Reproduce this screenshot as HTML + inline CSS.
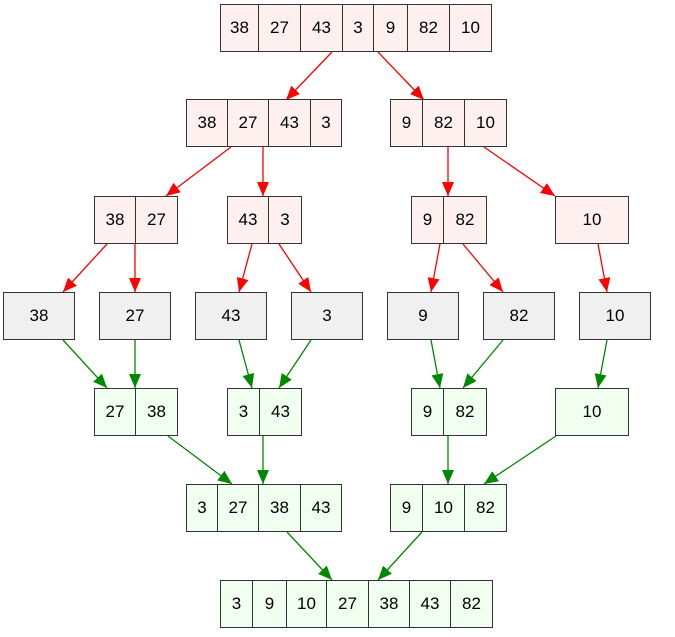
<!DOCTYPE html>
<html><head><meta charset="utf-8"><style>
body{margin:0;background:#fff;width:675px;height:637px;position:relative;overflow:hidden;font-family:"Liberation Sans",sans-serif;}
.n{position:absolute;display:flex;border:1.5px solid #333;box-sizing:border-box;height:48px;}
.n div{flex:none;display:flex;align-items:center;justify-content:center;font-size:17px;color:#000;border-right:1.5px solid #333;box-sizing:border-box;height:100%;}
.n div:last-child{border-right:none;}
.r{background:#fff0f0}.g{background:#f0fff0}.y{background:#f0f0f0}
svg{position:absolute;left:0;top:0}
</style></head><body>
<svg width="675" height="637">
<defs>
<marker id="ar" markerUnits="userSpaceOnUse" markerWidth="14" markerHeight="12" refX="14" refY="6" orient="auto"><path d="M0,0 L14,6 L0,12 z" fill="#f00"/></marker>
<marker id="ag" markerUnits="userSpaceOnUse" markerWidth="14" markerHeight="12" refX="14" refY="6" orient="auto"><path d="M0,0 L14,6 L0,12 z" fill="#080"/></marker>
</defs>
<g stroke="#f00" stroke-width="1.3" marker-end="url(#ar)">
<line x1="332" y1="52" x2="286" y2="100"/><line x1="378" y1="52" x2="424" y2="100"/>
<line x1="231" y1="147" x2="166" y2="196"/><line x1="263" y1="147" x2="263" y2="196"/>
<line x1="448" y1="147" x2="448" y2="196"/><line x1="484" y1="147" x2="555" y2="196"/>
<line x1="107" y1="244" x2="63" y2="292"/><line x1="135" y1="244" x2="135" y2="292"/>
<line x1="252" y1="244" x2="239" y2="292"/><line x1="279" y1="244" x2="311" y2="292"/>
<line x1="440" y1="244" x2="431" y2="292"/><line x1="463" y1="244" x2="503" y2="292"/>
<line x1="598" y1="244" x2="607" y2="292"/>
</g>
<g stroke="#080" stroke-width="1.3" marker-end="url(#ag)">
<line x1="63" y1="340" x2="107" y2="388"/><line x1="135" y1="340" x2="135" y2="388"/>
<line x1="239" y1="340" x2="252" y2="388"/><line x1="311" y1="340" x2="279" y2="388"/>
<line x1="431" y1="340" x2="440" y2="388"/><line x1="503" y1="340" x2="463" y2="388"/>
<line x1="607" y1="340" x2="598" y2="388"/>
<line x1="168" y1="436" x2="232" y2="484"/><line x1="263" y1="436" x2="263" y2="484"/>
<line x1="448" y1="436" x2="448" y2="484"/><line x1="556" y1="436" x2="484" y2="484"/>
<line x1="287" y1="532" x2="332" y2="580"/><line x1="422" y1="532" x2="378" y2="580"/>
</g>
</svg>

<div class="n r" style="left:220px;top:4px"><div style="width:38px">38</div><div style="width:42px">27</div><div style="width:42px">43</div><div style="width:31px">3</div><div style="width:34px">9</div><div style="width:42px">82</div><div style="width:41px">10</div></div>

<div class="n r" style="left:186px;top:99px"><div style="width:41px">38</div><div style="width:41px">27</div><div style="width:42px">43</div><div style="width:30px">3</div></div>
<div class="n r" style="left:390px;top:99px"><div style="width:32px">9</div><div style="width:42px">82</div><div style="width:41px">10</div></div>

<div class="n r" style="left:94px;top:196px"><div style="width:41px">38</div><div style="width:41px">27</div></div>
<div class="n r" style="left:227px;top:196px"><div style="width:41px">43</div><div style="width:32px">3</div></div>
<div class="n r" style="left:411px;top:196px"><div style="width:32px">9</div><div style="width:42px">82</div></div>
<div class="n r" style="left:555px;top:196px"><div style="width:72px">10</div></div>

<div class="n y" style="left:3px;top:292px"><div style="width:70px">38</div></div>
<div class="n y" style="left:99px;top:292px"><div style="width:70px">27</div></div>
<div class="n y" style="left:195px;top:292px"><div style="width:70px">43</div></div>
<div class="n y" style="left:291px;top:292px"><div style="width:70px">3</div></div>
<div class="n y" style="left:387px;top:292px"><div style="width:70px">9</div></div>
<div class="n y" style="left:483px;top:292px"><div style="width:70px">82</div></div>
<div class="n y" style="left:579px;top:292px"><div style="width:70px">10</div></div>

<div class="n g" style="left:94px;top:388px"><div style="width:41px">27</div><div style="width:41px">38</div></div>
<div class="n g" style="left:227px;top:388px"><div style="width:32px">3</div><div style="width:41px">43</div></div>
<div class="n g" style="left:411px;top:388px"><div style="width:32px">9</div><div style="width:42px">82</div></div>
<div class="n g" style="left:555px;top:388px"><div style="width:72px">10</div></div>

<div class="n g" style="left:186px;top:484px"><div style="width:31px">3</div><div style="width:41px">27</div><div style="width:42px">38</div><div style="width:40px">43</div></div>
<div class="n g" style="left:390px;top:484px"><div style="width:32px">9</div><div style="width:42px">10</div><div style="width:41px">82</div></div>

<div class="n g" style="left:220px;top:580px"><div style="width:32px">3</div><div style="width:34px">9</div><div style="width:40px">10</div><div style="width:42px">27</div><div style="width:41px">38</div><div style="width:41px">43</div><div style="width:41px">82</div></div>
</body></html>
